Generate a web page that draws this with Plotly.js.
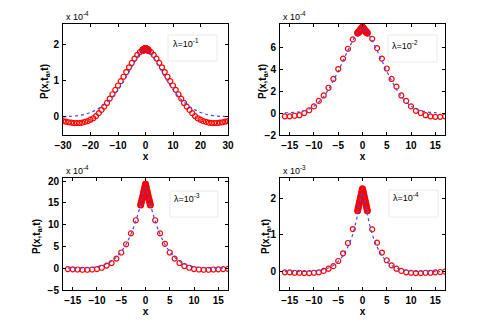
<!DOCTYPE html>
<html>
<head>
<meta charset="utf-8">
<script src="https://cdn.plot.ly/plotly-3.0.1.min.js"></script>
<style>
  html, body { margin: 0; padding: 0; background: #fff; }
  #chart { width: 491px; height: 327px; }
</style>
</head>
<body>
<div id="chart"></div>
<script>
// ---- data (values as read on each axis, i.e. in units of the "x 10^n" label) ----
const x1 = [-30,-29,-28,-27,-26,-25,-24,-23,-22,-21,-20,-19,-18,-17,-16,-15,-14,-13,-12,-11,-10,-9,-8,-7,-6,-5,-4,-3,-2,-1,0,
            1,2,3,4,5,6,7,8,9,10,11,12,13,14,15,16,17,18,19,20,21,22,23,24,25,26,27,28,29,30];
const x1Blue = [-30,-28,-26,-24,-22,-20,-18,-16,-14,-12,-10,-8,-6,-4,-2,0,2,4,6,8,10,12,14,16,18,20,22,24,26,28,30];
const xInt = [-16,-15,-14,-13,-12,-11,-10,-9,-8,-7,-6,-5,-4,-3,-2,-1,0,1,2,3,4,5,6,7,8,9,10,11,12,13,14,15,16,17];
const xBlue = [-16,-15,-14,-13,-12,-11,-10,-9,-8,-7,-6,-5,-4,-3,-2,-1,0,1,2,3,4,5,6,7,8,9,10,11,12,13,14,15,16];
const xPeak = [-1,-0.9,-0.8,-0.7,-0.6,-0.5,-0.4,-0.3,-0.2,-0.1,0,0.1,0.2,0.3,0.4,0.5,0.6,0.7,0.8,0.9,1];

// lambda = 1e-1  (x 10^-4)
const red1 = [-0.12,-0.13,-0.15,-0.16,-0.17,-0.17,-0.17,-0.16,-0.14,-0.12,-0.08,-0.04,0.02,0.1,0.19,0.28,0.38,0.5,0.62,0.74,0.86,0.98,1.1,1.23,1.36,1.48,1.6,1.7,1.78,1.83,1.86,
              1.83,1.78,1.7,1.6,1.48,1.36,1.23,1.1,0.98,0.86,0.74,0.62,0.5,0.38,0.28,0.19,0.1,0.02,-0.04,-0.08,-0.12,-0.14,-0.16,-0.17,-0.17,-0.17,-0.16,-0.15,-0.13,-0.12];
const peak1 = [1.83,1.83,1.84,1.84,1.85,1.85,1.86,1.86,1.86,1.87,1.87,1.87,1.86,1.86,1.86,1.85,1.85,1.84,1.84,1.83,1.83];
const blue1 = [0.0,0.01,0.02,0.04,0.07,0.12,0.19,0.28,0.4,0.55,0.74,0.97,1.23,1.5,1.74,1.85,
               1.74,1.5,1.23,0.97,0.74,0.55,0.4,0.28,0.19,0.12,0.07,0.04,0.02,0.01,0.0];

// lambda = 1e-2  (x 10^-4)
const red2 = [-0.3,-0.3,-0.25,-0.2,0.0,0.25,0.6,1.1,1.6,2.3,3.1,4.0,4.95,5.85,6.7,7.25,7.8,
              7.25,6.75,5.9,4.95,4.05,3.1,2.4,1.6,1.1,0.6,0.2,0.0,-0.2,-0.3,-0.35,-0.35,-0.3];
const peak2 = [7.27,7.32,7.37,7.42,7.47,7.52,7.58,7.64,7.7,7.76,7.82,7.76,7.7,7.64,7.58,7.52,7.47,7.42,7.37,7.32,7.27];
const blue2 = [0.01,0.03,0.06,0.11,0.21,0.37,0.62,1.0,1.5,2.15,2.95,3.8,4.75,5.7,6.6,7.3,7.7,
               7.3,6.6,5.7,4.75,3.8,2.95,2.15,1.5,1.0,0.62,0.37,0.21,0.11,0.06,0.03,0.01];

// lambda = 1e-3  (x 10^-4)
const red3 = [-0.2,-0.25,-0.3,-0.35,-0.35,-0.3,-0.2,0.1,0.6,1.2,2.2,3.6,5.5,8.0,11.0,14.5,19.2,
              14.5,11.0,8.0,5.6,3.6,2.2,1.2,0.5,0.1,-0.2,-0.3,-0.35,-0.35,-0.3,-0.25,-0.2,-0.15];
const peak3 = [14.5,15.0,15.4,15.9,16.3,16.8,17.3,17.8,18.3,18.8,19.3,18.8,18.3,17.8,17.3,16.8,16.3,15.9,15.4,15.0,14.5];
const blue3 = [0.0,0.01,0.02,0.05,0.1,0.2,0.35,0.6,1.0,1.6,2.5,3.8,5.5,7.8,10.8,14.6,18.5,
               14.6,10.8,7.8,5.5,3.8,2.5,1.6,1.0,0.6,0.35,0.2,0.1,0.05,0.02,0.01,0.0];

// lambda = 1e-4  (x 10^-3)
const red4 = [-0.02,-0.02,-0.03,-0.03,-0.04,-0.04,-0.03,-0.02,0.02,0.08,0.15,0.29,0.5,0.78,1.16,1.65,2.25,
              1.65,1.15,0.79,0.52,0.31,0.17,0.08,0.02,-0.02,-0.03,-0.04,-0.04,-0.03,-0.03,-0.02,-0.01,0.0];
const peak4 = [1.66,1.72,1.78,1.84,1.9,1.96,2.02,2.08,2.14,2.2,2.26,2.2,2.14,2.08,2.02,1.96,1.9,1.84,1.78,1.72,1.66];
const blue4 = [0,0,0,0,0.005,0.01,0.02,0.035,0.06,0.1,0.17,0.28,0.44,0.68,1.02,1.55,2.15,
               1.55,1.02,0.68,0.44,0.28,0.17,0.1,0.06,0.035,0.02,0.01,0.005,0,0,0,0];

const lambdaLabels = ['λ=10<sup>-1</sup>', 'λ=10<sup>-2</sup>', 'λ=10<sup>-3</sup>', 'λ=10<sup>-4</sup>'];
const expLabels = ['x 10<sup>-4</sup>', 'x 10<sup>-4</sup>', 'x 10<sup>-4</sup>', 'x 10<sup>-3</sup>'];

// ---- traces ----
const RED = '#ff0000';
const BLUE = '#3a4cff';

function panel(n, xr, yr, xp, yp, xb, yb) {
    const xa = n === 1 ? 'x' : 'x' + n;
    const ya = n === 1 ? 'y' : 'y' + n;
    const circ = { symbol: 'circle-open', size: 5, color: RED, line: { color: RED, width: 1.2 } };
    const circPeak = { symbol: 'circle-open', size: 5, color: RED, line: { color: RED, width: 2 } };
    return [
        { x: xr, y: yr, xaxis: xa, yaxis: ya, type: 'scatter', mode: 'markers', marker: circ },
        { x: xp, y: yp, xaxis: xa, yaxis: ya, type: 'scatter', mode: 'markers', marker: circPeak },
        { x: xb, y: yb, xaxis: xa, yaxis: ya, type: 'scatter', mode: 'lines',
          line: { color: BLUE, width: 1.2, dash: '3px,3px', shape: 'spline' } }
    ];
}

const data = [].concat(
    panel(1, x1, red1, xPeak, peak1, x1Blue, blue1),
    panel(2, xInt, red2, xPeak, peak2, xBlue, blue2),
    panel(3, xInt, red3, xPeak, peak3, xBlue, blue3),
    panel(4, xInt, red4, xPeak, peak4, xBlue, blue4)
);

// ---- layout ----
const W = 491, H = 327;
const colL = [63 / W, 228 / W], colR = [280 / W, 445 / W];
const rowT = [1 - 135 / H, 1 - 24 / H], rowB = [1 - 290 / H, 1 - 178 / H];

const tickFont = { family: 'Liberation Sans, Arial, sans-serif', size: 10, color: '#000', weight: 'bold' };
function ax(extra) {
    return Object.assign({
        showline: true, linecolor: '#000', linewidth: 1, mirror: 'ticks',
        ticks: 'inside', ticklen: 3, tickcolor: '#000', tickwidth: 1,
        showgrid: false, zeroline: false, tickfont: tickFont, ticklabelstandoff: 1
    }, extra);
}
const xTitle = { text: 'x', font: { family: 'Liberation Sans', size: 10, weight: 'bold', color: '#000' }, standoff: 1 };

const layout = {
    width: W, height: H,
    margin: { l: 0, r: 0, t: 0, b: 0 },
    paper_bgcolor: '#fff', plot_bgcolor: '#fff',
    showlegend: false,
    font: { family: 'Liberation Sans, Arial, sans-serif', color: '#000' },
    xaxis:  ax({ domain: colL, anchor: 'y',  range: [-30, 30], tickvals: [-30, -20, -10, 0, 10, 20, 30], title: xTitle }),
    yaxis:  ax({ domain: rowT, anchor: 'x',  range: [-0.5, 2.55], tickvals: [0, 1, 2] }),
    xaxis2: ax({ domain: colR, anchor: 'y2', range: [-17, 17], tickvals: [-15, -10, -5, 0, 5, 10, 15], title: xTitle }),
    yaxis2: ax({ domain: rowT, anchor: 'x2', range: [-2, 8.1], tickvals: [-2, 0, 2, 4, 6] }),
    xaxis3: ax({ domain: colL, anchor: 'y3', range: [-17, 17], tickvals: [-15, -10, -5, 0, 5, 10, 15], title: xTitle }),
    yaxis3: ax({ domain: rowB, anchor: 'x3', range: [-5, 20.7], tickvals: [-5, 0, 5, 10, 15, 20] }),
    xaxis4: ax({ domain: colR, anchor: 'y4', range: [-17, 17], tickvals: [-15, -10, -5, 0, 5, 10, 15], title: xTitle }),
    yaxis4: ax({ domain: rowB, anchor: 'x4', range: [-0.5, 2.55], tickvals: [0, 1, 2] }),
    shapes: [],
    annotations: []
};

// legend-like boxes (pixel positions from the reference)
const boxes = [
    { x0: 168, x1: 217, y0: 35, y1: 61, tx: 171, ty: 43 },
    { x0: 388, x1: 437, y0: 35, y1: 62, tx: 390, ty: 45 },
    { x0: 170, x1: 218, y0: 191, y1: 217, tx: 172, ty: 198 },
    { x0: 389, x1: 438, y0: 190, y1: 217, tx: 391, ty: 197 }
];
const yTitleX = [45, 263, 37, 266];
const yTitleY = [82, 82, 237, 237];
const expPos = [[64, 24], [281, 24], [64, 178], [281, 178]];

boxes.forEach((b, i) => {
    layout.shapes.push({
        type: 'rect', xref: 'paper', yref: 'paper',
        x0: b.x0 / W, x1: b.x1 / W, y0: 1 - b.y1 / H, y1: 1 - b.y0 / H,
        line: { color: '#e4eee4', width: 1 }, fillcolor: 'rgba(0,0,0,0)'
    });
    layout.annotations.push({
        xref: 'paper', yref: 'paper', x: b.tx / W, y: 1 - b.ty / H,
        xanchor: 'left', yanchor: 'middle', showarrow: false,
        text: lambdaLabels[i], font: { size: 9, color: '#000' }
    });
    layout.annotations.push({
        xref: 'paper', yref: 'paper', x: yTitleX[i] / W, y: 1 - yTitleY[i] / H,
        xanchor: 'center', yanchor: 'middle', showarrow: false, textangle: -90,
        text: 'P(x,t<sub>a</sub>,t)', font: { size: 10, color: '#000', weight: 'bold' }
    });
    layout.annotations.push({
        xref: 'paper', yref: 'paper', x: expPos[i][0] / W, y: 1 - expPos[i][1] / H,
        xanchor: 'left', yanchor: 'bottom', showarrow: false,
        text: expLabels[i], font: { size: 9, color: '#000' }
    });
});

Plotly.newPlot('chart', data, layout, { staticPlot: true, displayModeBar: false });
</script>
</body>
</html>
